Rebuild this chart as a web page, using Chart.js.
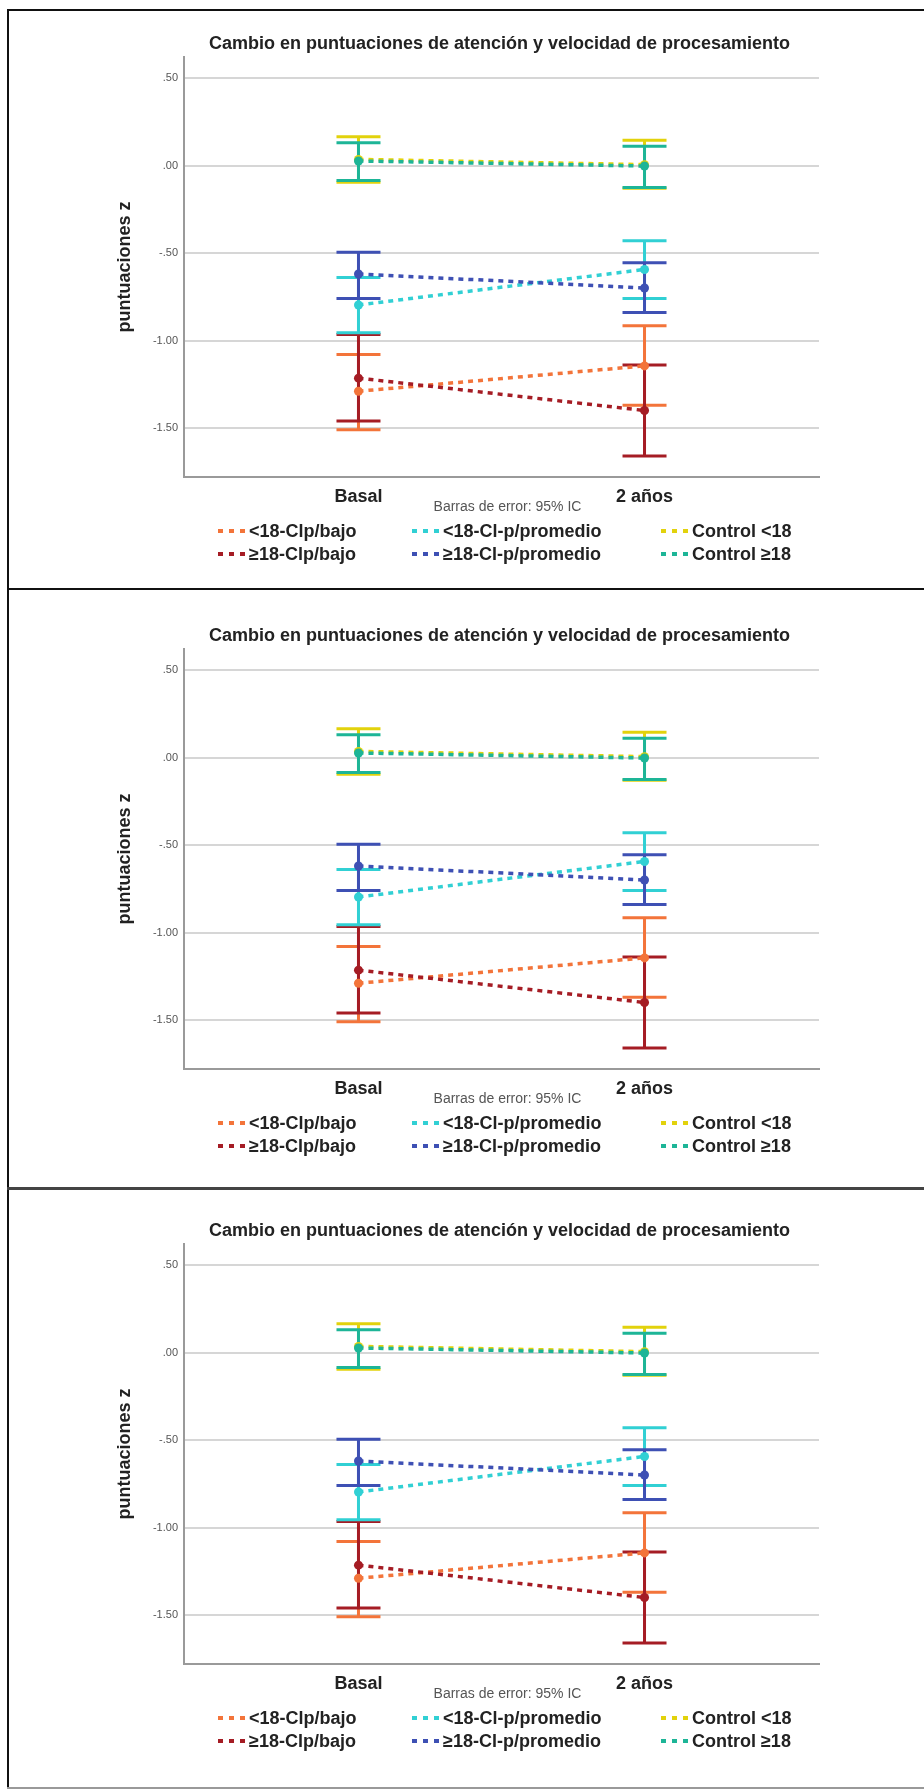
<!DOCTYPE html>
<html>
<head>
<meta charset="utf-8">
<script src="https://cdn.jsdelivr.net/npm/chart.js@4/dist/chart.umd.min.js"></script>
<style>
html, body { margin: 0; padding: 0; background: #fff; }
body { position: relative; width: 924px; height: 1789px; overflow: hidden; }
.panel { position: absolute; left: 0; width: 924px; height: 580px; }
.panel canvas { display: block; }
.rule { position: absolute; z-index: 2; }
</style>
</head>
<body>
<div class="panel" style="top:0"><canvas id="chart1" width="924" height="580"></canvas></div>
<div class="panel" style="top:592px"><canvas id="chart2" width="924" height="580"></canvas></div>
<div class="panel" style="top:1187px"><canvas id="chart3" width="924" height="580"></canvas></div>

<!-- marco del documento -->
<div class="rule" style="left:7px;top:10px;width:2px;height:1779px;background:#111"></div>
<div class="rule" style="left:7px;top:9px;width:917px;height:2px;background:#111"></div>
<div class="rule" style="left:7px;top:588px;width:917px;height:2px;background:#111"></div>
<div class="rule" style="left:7px;top:1187px;width:917px;height:3px;background:#444"></div>
<div class="rule" style="left:7px;top:1787px;width:917px;height:2px;background:#999"></div>

<script>
const chartTitle = 'Cambio en puntuaciones de atención y velocidad de procesamiento';
const timeLabels = ['Basal', '2 años'];
const groups = ['<18-Clp/bajo', '≥18-Clp/bajo', '<18-Cl-p/promedio', '≥18-Cl-p/promedio', 'Control <18', 'Control ≥18'];
const colors = ['#f3743a', '#a51c24', '#31d0d4', '#3e50b4', '#e2d20c', '#1db597'];
// medias y IC 95% (Basal, 2 años)
const means = [[-1.29, -1.145], [-1.215, -1.40], [-0.797, -0.594], [-0.62, -0.70], [0.035, 0.005], [0.026, -0.003]];
const lower = [[-1.51, -1.37], [-1.46, -1.66], [-0.955, -0.76], [-0.76, -0.84], [-0.095, -0.13], [-0.085, -0.125]];
const upper = [[-1.08, -0.915], [-0.965, -1.14], [-0.64, -0.43], [-0.495, -0.555], [0.165, 0.145], [0.13, 0.11]];
const yTicks = [-1.5, -1, -0.5, 0, 0.5];

Chart.defaults.font.family = '"Liberation Sans", Arial, sans-serif';

const errorBars = {
    id: 'errorBars',
    beforeDatasetsDraw(chart) {
        const { ctx, scales: { x, y } } = chart;
        ctx.save();
        ctx.lineWidth = 3;
        groups.forEach((g, i) => {
            ctx.strokeStyle = colors[i];
            timeLabels.forEach((t, j) => {
                const px = x.getPixelForValue(j);
                const top = y.getPixelForValue(upper[i][j]);
                const bot = y.getPixelForValue(lower[i][j]);
                ctx.beginPath();
                ctx.moveTo(px, top); ctx.lineTo(px, bot);
                ctx.moveTo(px - 22, top); ctx.lineTo(px + 22, top);
                ctx.moveTo(px - 22, bot); ctx.lineTo(px + 22, bot);
                ctx.stroke();
            });
        });
        ctx.restore();
    }
};

const titleAndLegend = {
    id: 'titleAndLegend',
    afterDraw(chart) {
        const { ctx, chartArea } = chart;
        const cx = (chartArea.left + chartArea.right) / 2;
        ctx.save();
        ctx.textBaseline = 'middle';

        ctx.fillStyle = '#222';
        ctx.textAlign = 'center';
        ctx.font = 'bold 18px "Liberation Sans", Arial, sans-serif';
        ctx.fillText(chartTitle, cx - 2, chartArea.top - 13);

        ctx.fillStyle = '#555';
        ctx.font = '14px "Liberation Sans", Arial, sans-serif';
        ctx.fillText('Barras de error: 95% IC', cx + 6, chartArea.bottom + 30);

        // leyenda 3 columnas x 2 filas
        const colX = [34, 228, 477];
        ctx.textAlign = 'left';
        ctx.font = 'bold 18px "Liberation Sans", Arial, sans-serif';
        groups.forEach((g, i) => {
            const x0 = chartArea.left + colX[Math.floor(i / 2)];
            const y0 = chartArea.bottom + 54 + (i % 2) * 23;
            ctx.strokeStyle = colors[i];
            ctx.lineWidth = 4;
            ctx.setLineDash([5, 6]);
            ctx.beginPath();
            ctx.moveTo(x0, y0);
            ctx.lineTo(x0 + 27, y0);
            ctx.stroke();
            ctx.setLineDash([]);
            ctx.fillStyle = '#222';
            ctx.fillText(g, x0 + 31, y0 + 1);
        });
        ctx.restore();
    }
};

function makeChart(id) {
    const ctx = document.getElementById(id).getContext('2d');
    return new Chart(ctx, {
        type: 'line',
        data: {
            datasets: groups.map((g, i) => ({
                label: g,
                data: means[i].map((v, j) => ({ x: j, y: v })),
                borderColor: colors[i],
                backgroundColor: colors[i],
                pointBackgroundColor: colors[i],
                pointBorderWidth: 0,
                pointRadius: 4.5,
                borderWidth: 3.5,
                borderDash: [5, 5],
                tension: 0,
                fill: false,
                order: groups.length - i
            }))
        },
        options: {
            responsive: false,
            animation: false,
            events: [],
            layout: { padding: { top: 57, right: 105, bottom: 0, left: 0 } },
            plugins: {
                legend: { display: false },
                tooltip: { enabled: false },
                title: { display: false }
            },
            scales: {
                x: {
                    type: 'linear',
                    min: -0.61,
                    max: 1.61,
                    afterBuildTicks: (s) => { s.ticks = timeLabels.map((t, j) => ({ value: j })); },
                    afterFit: (s) => { s.height = 103; },
                    grid: { display: false, drawTicks: false },
                    border: { display: true, color: '#9a9a9a', width: 2 },
                    ticks: {
                        padding: 9,
                        color: '#222',
                        font: { size: 18, weight: 'bold' },
                        callback: (v) => timeLabels[v] ?? ''
                    }
                },
                y: {
                    min: -1.78,
                    max: 0.62,
                    afterBuildTicks: (s) => { s.ticks = yTicks.map(v => ({ value: v })); },
                    afterFit: (s) => { s.width = 184; },
                    grid: { color: '#d6d6d6', lineWidth: 2, drawTicks: false },
                    border: { display: true, color: '#9a9a9a', width: 2 },
                    title: {
                        display: true,
                        text: 'puntuaciones z',
                        color: '#222',
                        font: { size: 18, weight: 'bold' },
                        padding: { top: 114, bottom: 0 }
                    },
                    ticks: {
                        padding: 6,
                        color: '#555',
                        font: { size: 11 },
                        callback: (v) => v.toFixed(2).replace(/^(-?)0\./, '$1.')
                    }
                }
            }
        },
        plugins: [errorBars, titleAndLegend]
    });
}

makeChart('chart1');
makeChart('chart2');
makeChart('chart3');
</script>
</body>
</html>
